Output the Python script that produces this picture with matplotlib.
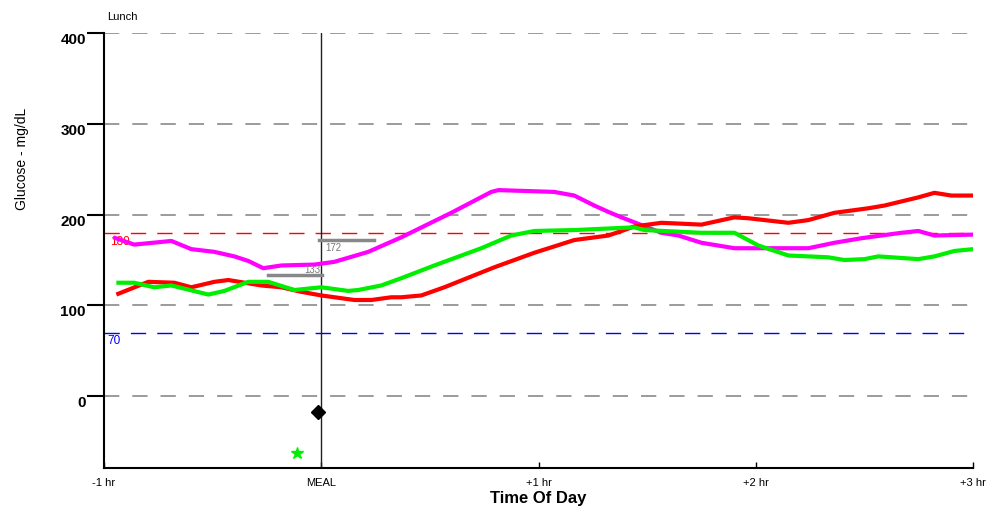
import numpy as np
import matplotlib.pyplot as plt

plt.rcParams['font.family'] = ['Liberation Sans', 'DejaVu Sans']

# glucose traces, hours relative to meal vs mg/dL
mag_t = [-0.957, -0.861, -0.690, -0.598, -0.492, -0.400, -0.336, -0.267, -0.184, -0.032, 0.060,
         0.216, 0.368, 0.598, 0.782, 0.815, 1.072, 1.164, 1.256, 1.321, 1.381, 1.565, 1.643,
         1.749, 1.901, 2.241, 2.361, 2.485, 2.669, 2.747, 2.821, 3.0]
mag_v = [175, 167, 171, 162, 159, 154, 149, 141, 144, 145, 148,
         159, 175, 202, 225, 227, 225, 221, 210, 203, 197, 180, 177,
         169, 163, 163, 169, 174, 180, 182, 177, 178]

red_t = [-0.943, -0.796, -0.676, -0.598, -0.492, -0.428, -0.276, -0.184, -0.092, 0.0, 0.152,
         0.230, 0.322, 0.368, 0.460, 0.566, 0.796, 0.980, 1.164, 1.321, 1.394, 1.440, 1.565,
         1.749, 1.901, 1.965, 2.149, 2.241, 2.361, 2.517, 2.591, 2.747, 2.821, 2.899, 3.0]
red_v = [112, 126, 125, 120, 126, 128, 122, 120, 115, 111, 106,
         106, 109, 109, 111, 120, 142, 158, 172, 177, 183, 187, 191,
         189, 197, 196, 191, 194, 202, 207, 210, 219, 224, 221, 221]

grn_t = [-0.943, -0.861, -0.769, -0.690, -0.520, -0.446, -0.336, -0.244, -0.124, 0.0, 0.124,
         0.170, 0.276, 0.368, 0.520, 0.736, 0.874, 0.980, 1.164, 1.348, 1.440, 1.486, 1.749,
         1.901, 2.011, 2.149, 2.333, 2.407, 2.499, 2.563, 2.747, 2.821, 2.913, 3.0]
grn_v = [125, 125, 120, 122, 112, 116, 126, 126, 117, 120, 116,
         117, 122, 130, 144, 163, 177, 182, 183, 185, 186, 183, 180,
         180, 166, 155, 153, 150, 151, 154, 151, 154, 160, 162]

# averages before/after meal
avg_before = 133
avg_after = 172
hi_limit = 180
lo_limit = 70

yticks = [0, 100, 200, 300, 400]
xticks = [-1, 0, 1, 2, 3]
xlabels = ['-1 hr', 'MEAL', '+1 hr', '+2 hr', '+3 hr']

fig = plt.figure(figsize=(9.94, 5.13), dpi=100)
ax = fig.add_axes([0.1046, 0.0877, 0.8746, 0.848])
ax.set_xlim(-1, 3)
ax.set_ylim(-79, 400)

for yv in yticks:
    ax.axhline(yv, color='#808080', lw=1.1, dashes=(10, 8.5), zorder=1)
ax.axhline(hi_limit, color='red', lw=1.0, dashes=(11, 8), zorder=1)
ax.axhline(lo_limit, color='blue', lw=1.0, dashes=(11, 8), zorder=1)
ax.text(-0.97, hi_limit - 3, str(hi_limit), color='red', fontsize=8.5, va='top', ha='left')
ax.text(-0.985, lo_limit - 3, str(lo_limit), color='blue', fontsize=8.5, va='top', ha='left')

ax.axvline(0, color='#202020', lw=1.0, zorder=2)

ax.plot(mag_t, mag_v, color='#ff00ff', lw=3, solid_capstyle='butt', zorder=3)
ax.plot(red_t, red_v, color='#ff0000', lw=3, solid_capstyle='butt', zorder=4)
ax.plot(grn_t, grn_v, color='#00ee00', lw=3, solid_capstyle='butt', zorder=4)

ax.plot([-0.244, 0.005], [avg_before, avg_before], color='#888888', lw=2.5, zorder=5)
ax.plot([-0.01, 0.244], [avg_after, avg_after], color='#888888', lw=2.5, zorder=5)
ax.text(-0.005, avg_before + 1, str(avg_before), color='#777777', fontsize=7, ha='right', va='bottom')
ax.text(0.02, avg_after - 3, str(avg_after), color='#777777', fontsize=7, ha='left', va='top')

ax.plot([-0.014], [-17], marker='D', color='black', ms=7, zorder=6)
ax.plot([-0.11], [-63], marker='*', color='#00ee00', ms=9, zorder=6)

ax.spines['top'].set_visible(False)
ax.spines['right'].set_visible(False)
ax.spines['left'].set_linewidth(1.5)
ax.spines['bottom'].set_linewidth(1.5)

ax.set_yticks(yticks)
ax.set_yticklabels([str(v) for v in yticks], fontweight='bold', fontsize=11, va='top')
ax.tick_params(axis='y', length=12, width=1.5, pad=1)
ax.set_xticks(xticks)
ax.set_xticklabels(xlabels, fontsize=8, family=['Liberation Sans Narrow', 'Liberation Sans'])
ax.tick_params(axis='x', direction='in', length=4, width=1, pad=7)

ax.set_xlabel('Time Of Day', fontweight='bold', fontsize=12, labelpad=2)
fig.text(0.022, 0.69, 'Glucose - mg/dL', rotation=90, fontsize=10, ha='center', va='center')
fig.text(0.108, 0.967, 'Lunch', fontsize=8, ha='left', va='center')

fig.savefig('out.png', dpi=100)
